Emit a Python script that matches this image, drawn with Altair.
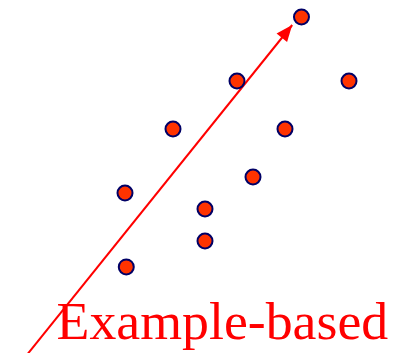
import altair as alt
import pandas as pd

# scatter points
pt_x = [18.03, 14, 21, 10, 17, 15, 7, 12, 12, 7.08]
pt_y = [20, 16, 16, 13, 13, 10, 9, 8, 6, 4.38]

# arrow (tail -> tip)
arrow_x = [0.5625, 17.45]
arrow_y = [-1.5, 19.5]
arrow_angle = [39]

# label
label_text = ["Example-based"]
label_x = [23.45]
label_y = [-0.13]

xs = alt.Scale(domain=[-0.3125, 23.5])
ys = alt.Scale(domain=[-1, 20.5625])

pts = pd.DataFrame({"x": pt_x, "y": pt_y})
arr = pd.DataFrame({"x": arrow_x, "y": arrow_y, "o": [0, 1]})
tip = pd.DataFrame({"x": [arrow_x[1]], "y": [arrow_y[1]], "a": arrow_angle})
lab = pd.DataFrame({"x": label_x, "y": label_y, "t": label_text})

X = lambda: alt.X("x:Q", scale=xs, axis=None)
Y = lambda: alt.Y("y:Q", scale=ys, axis=None)

line = alt.Chart(arr).mark_line(color="#ff0000", strokeWidth=2, clip=False).encode(
    x=X(), y=Y(), order="o:Q")

head = alt.Chart(tip).mark_point(
    shape="M0,0L0.82,2L-0.82,2Z", filled=True, color="#ff0000", opacity=1,
    size=272, strokeWidth=0).encode(
    x=X(), y=Y(), angle=alt.Angle("a:Q", scale=None))

dots = alt.Chart(pts).mark_point(
    shape="circle", filled=True, fill="#ff3300", stroke="#000066",
    strokeWidth=2, size=225, opacity=1, fillOpacity=1).encode(x=X(), y=Y())

text = alt.Chart(lab).mark_text(
    font="Liberation Serif", fontSize=53.8, color="#ff0000", align="right",
    baseline="alphabetic").encode(x=X(), y=Y(), text="t:N")

chart = alt.layer(line, head, dots, text).properties(
    width=381, height=345, autosize=alt.AutoSizeParams(type="none"), padding=0
).configure_view(stroke=None)

chart.save("out.html", embed_options={"renderer": "svg", "actions": False})
